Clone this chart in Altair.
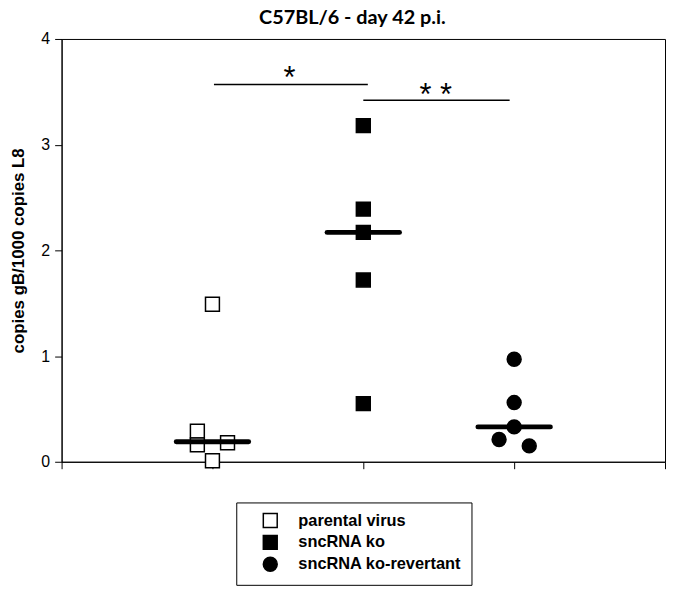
import altair as alt
import pandas as pd

groups = ["parental virus", "sncRNA ko", "sncRNA ko-revertant"]
shapes = ["square", "square", "circle"]
fills = ["white", "black", "black"]
strokes = ["black", "black", "black"]

parental_x = [1.0, 0.9, 0.9, 1.1, 1.0]
parental_y = [1.49, 0.29, 0.16, 0.18, 0.01]
ko_x = [2.0, 2.0, 2.0, 2.0, 2.0]
ko_y = [3.18, 2.39, 2.17, 1.72, 0.55]
rev_x = [3.0, 3.0, 3.0, 2.9, 3.1]
rev_y = [0.97, 0.56, 0.33, 0.21, 0.15]

median_x = [0.76, 1.76, 2.76]
median_x2 = [1.24, 2.24, 3.24]
median_y = [0.19, 2.17, 0.33]

bracket_x = [1.01, 2.0]
bracket_x2 = [2.03, 2.97]
bracket_y = [3.57, 3.42]
star_x = [1.51, 2.48]
star_y = [3.66, 3.50]
star_text = ["*", "* *"]

y_ticks = [0, 1, 2, 3, 4]
x_ticks = [0, 1, 2, 3, 4]

pts = pd.DataFrame({
    "x": parental_x + ko_x + rev_x,
    "y": parental_y + ko_y + rev_y,
    "group": [groups[0]] * 5 + [groups[1]] * 5 + [groups[2]] * 5,
})
med = pd.DataFrame({"x": median_x, "x2": median_x2, "y": median_y})
br = pd.DataFrame({"x": bracket_x, "x2": bracket_x2, "y": bracket_y})
st = pd.DataFrame({"x": star_x, "y": star_y, "t": star_text})

xs = alt.Scale(domain=[0, 4], nice=False, zero=False)
ys = alt.Scale(domain=[0, 4], nice=False)

xaxis = alt.Axis(values=x_ticks, labels=False, title=None, grid=False,
                 tickSize=7, tickColor="black", domainColor="black",
                 tickWidth=1, domainWidth=1)
yaxis = alt.Axis(values=y_ticks, format="d", title="copies gB/1000 copies L8", grid=False,
                 tickSize=7, tickColor="black", domainColor="black",
                 labelFont="Arial", labelFontSize=16, labelColor="black",
                 labelPadding=5, titleFont="Arial", titleFontSize=17,
                 titleFontWeight="bold", titleColor="black", titlePadding=13)

points = alt.Chart(pts).mark_point(opacity=1, strokeWidth=1.5, size=196).encode(
    x=alt.X("x:Q", scale=xs, axis=xaxis),
    y=alt.Y("y:Q", scale=ys, axis=yaxis),
    shape=alt.Shape("group:N", scale=alt.Scale(domain=groups, range=shapes),
                    legend=alt.Legend(title=None, orient="none", legendX=176, legendY=467,
                                      strokeColor="black", fillColor="white",
                                      padding=10, symbolOffset=16, symbolSize=196,
                                      symbolStrokeWidth=1.5,
                                      labelFont="Arial", labelFontSize=16.5,
                                      labelFontWeight="bold", labelColor="black",
                                      labelOffset=20, labelLimit=300, rowPadding=1)),
    fill=alt.Fill("group:N", scale=alt.Scale(domain=groups, range=fills)),
    stroke=alt.Stroke("group:N", scale=alt.Scale(domain=groups, range=strokes)),
)

medians = alt.Chart(med).mark_rule(strokeWidth=5, strokeCap="round", color="black").encode(
    x="x:Q", x2="x2", y="y:Q")
brackets = alt.Chart(br).mark_rule(strokeWidth=1.5, color="black").encode(
    x="x:Q", x2="x2", y="y:Q")
stars = alt.Chart(st).mark_text(font="Arial", fontSize=31, baseline="middle",
                                dy=4, color="black").encode(
    x="x:Q", y="y:Q", text="t:N")

chart = alt.layer(points, medians, brackets, stars).properties(
    width=608, height=426,
    title=alt.Title("C57BL/6 - day 42 p.i.", font="Lato", fontSize=20,
                    fontWeight="bold", color="black", baseline="alphabetic",
                    offset=-13, dx=-11),
    autosize=alt.AutoSizeParams(type="none"),
    padding={"left": 54, "top": 29, "right": 2, "bottom": 125},
).configure_view(stroke="black", strokeWidth=1)

chart.save("out.html", embed_options={"renderer": "svg", "actions": False})
